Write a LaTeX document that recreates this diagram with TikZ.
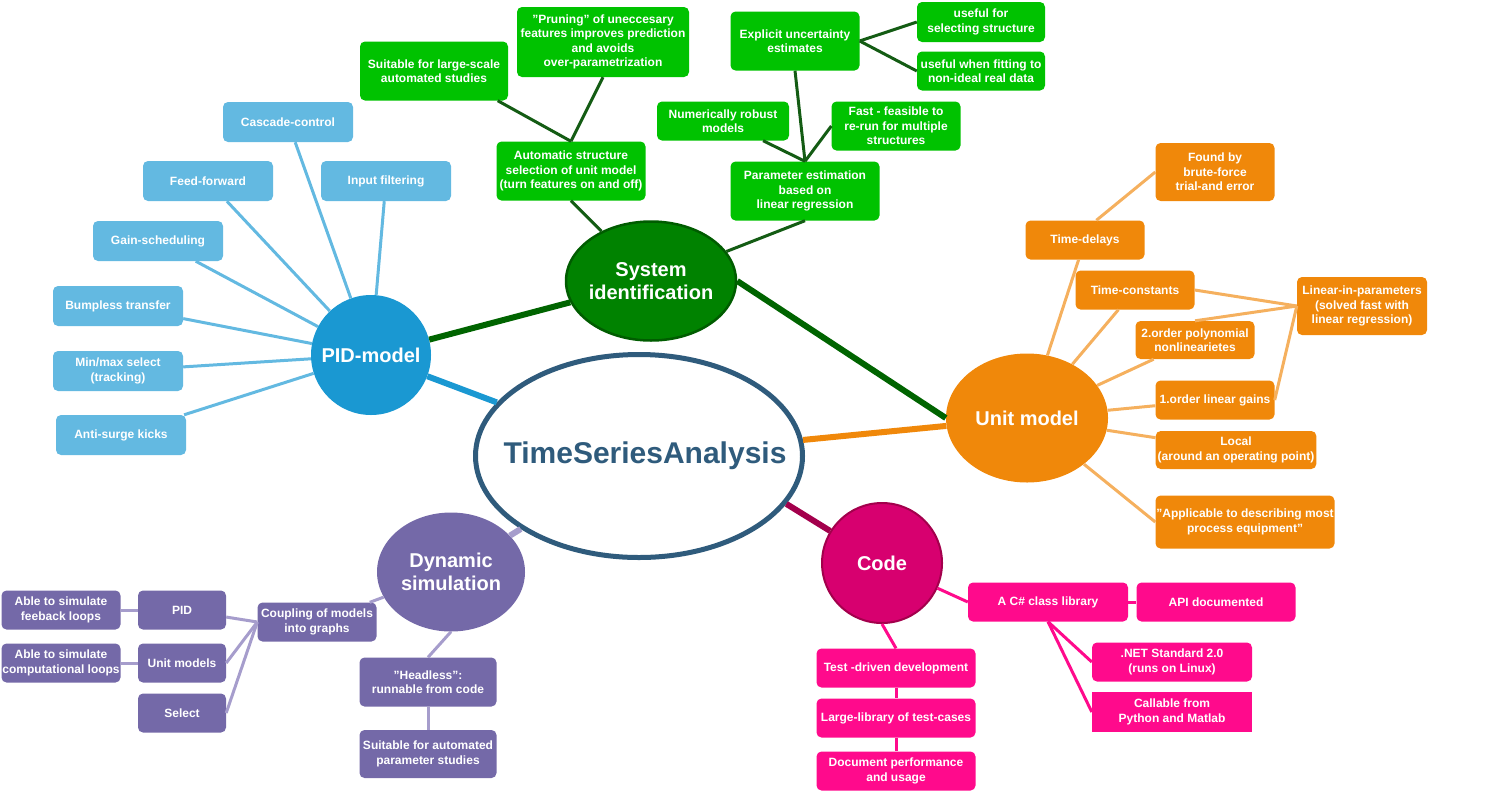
\documentclass[tikz,border=0pt]{standalone}
\usepackage{fontspec}
\setmainfont{Liberation Sans}
\usetikzlibrary{shapes.geometric}
\definecolor{tsaink}{HTML}{2F5B7C}
\definecolor{pidhub}{HTML}{1A98D2}
\definecolor{pidbox}{HTML}{63B9E1}
\definecolor{syshub}{HTML}{008200}
\definecolor{sysrim}{HTML}{005C00}
\definecolor{sysbox}{HTML}{00C200}
\definecolor{sysline}{HTML}{145C14}
\definecolor{syswire}{HTML}{006400}
\definecolor{unithub}{HTML}{F0880A}
\definecolor{unitline}{HTML}{F5B05E}
\definecolor{dynhub}{HTML}{7469A8}
\definecolor{dynline}{HTML}{A69DCC}
\definecolor{codehub}{HTML}{D7006F}
\definecolor{coderim}{HTML}{A3004C}
\definecolor{codebox}{HTML}{FF0A8C}

\begin{document}
\begin{tikzpicture}[x=1pt,y=-1pt,
  font=\bfseries\fontsize{12}{14.5}\selectfont,
  box/.style={rounded corners=5pt,text=white,align=center,inner sep=2pt,
    minimum width=119pt,minimum height=39pt},
  hub/.style={ellipse,text=white,align=center,inner xsep=-40pt,inner ysep=0pt,
    font=\bfseries\fontsize{20}{23}\selectfont},
  twig/.style={line width=3pt},
  limb/.style={line width=6pt}]
\useasboundingbox (0,0) rectangle (1498,793);

\node[hub,fill=white,draw=tsaink,line width=5pt,text=tsaink,
  font=\bfseries\fontsize{30}{36}\selectfont,
  minimum width=327pt,minimum height=203pt] (tsa) at (639,456) {\hspace*{12pt}TimeSeriesAnalysis};

\node[hub,fill=pidhub,minimum width=120pt,minimum height=120pt] (pid) at (371,355) {PID-model};
\node[box,fill=pidbox,minimum width=130pt,minimum height=40pt] (casc) at (288,122) {Cascade-control};
\node[box,fill=pidbox,minimum width=130pt,minimum height=40pt] (ffwd) at (208,181) {Feed-forward};
\node[box,fill=pidbox,minimum width=130pt,minimum height=40pt] (infil) at (386,181) {Input filtering};
\node[box,fill=pidbox,minimum width=130pt,minimum height=40pt] (gsch) at (158,241) {Gain-scheduling};
\node[box,fill=pidbox,minimum width=130pt,minimum height=40pt] (bump) at (118,306) {Bumpless transfer};
\node[box,fill=pidbox,minimum width=130pt,minimum height=40pt] (minmax) at (118,371) {Min/max select\\(tracking)};
\node[box,fill=pidbox,minimum width=130pt,minimum height=40pt] (asurge) at (121,435) {Anti-surge kicks};

\node[hub,fill=syshub,draw=sysrim,line width=2.5pt,minimum width=170pt,minimum height=119pt] (sysid) at (651,281) {System\\identification};
\node[box,fill=sysbox,minimum width=148pt,minimum height=59pt] (suit) at (434,71) {Suitable for large-scale\\automated studies};
\node[box,fill=sysbox,minimum width=172pt,minimum height=70pt] (prun) at (603,42) {"Pruning" of uneccesary\\features improves prediction\\and avoids\\over-parametrization};
\node[box,fill=sysbox,minimum width=149pt,minimum height=59pt] (auto) at (571,171) {Automatic structure\\selection of unit model\\(turn features on and off)};
\node[box,fill=sysbox,minimum width=129pt,minimum height=59pt] (expl) at (795,41) {Explicit uncertainty\\estimates};
\node[box,fill=sysbox,minimum width=128pt,minimum height=40pt] (use1) at (981,22) {useful for\\selecting structure};
\node[box,fill=sysbox,minimum width=128pt,minimum height=39pt] (use2) at (981,71) {useful when fitting to\\non-ideal real data};
\node[box,fill=sysbox,minimum width=132pt,minimum height=39pt] (robust) at (723,121) {Numerically robust\\models};
\node[box,fill=sysbox,minimum width=129pt,minimum height=49pt] (fast) at (896,126) {Fast - feasible to\\re-run for multiple\\structures};
\node[box,fill=sysbox,minimum width=149pt,minimum height=59pt] (param) at (805,191) {Parameter estimation\\based on\\linear regression};

\node[hub,fill=unithub,minimum width=162pt,minimum height=129pt] (unit) at (1027,418) {Unit model};
\node[box,fill=unithub,minimum height=58pt] (found) at (1215,172) {Found by\\brute-force\\trial-and error};
\node[box,fill=unithub] (td) at (1085,240) {Time-delays};
\node[box,fill=unithub] (tc) at (1135,290) {Time-constants};
\node[box,fill=unithub,minimum height=38pt] (poly) at (1195,340) {2.order polynomial\\nonlinearietes};
\node[box,fill=unithub] (og) at (1215,400) {1.order linear gains};
\node[box,fill=unithub,minimum width=160pt,minimum height=38pt] (local) at (1236,450) {Local\\(around an operating point)};
\node[box,fill=unithub,inner xsep=0pt,minimum width=179pt,minimum height=53pt] (applic) at (1245,522) {"Applicable to describing most\\process equipment"};
\node[box,fill=unithub,minimum width=130pt,minimum height=58pt] (lip) at (1362,306) {Linear-in-parameters\\(solved fast with\\linear regression)};

\node[hub,fill=dynhub,minimum width=148pt,minimum height=119pt] (dyn) at (451,572) {Dynamic\\simulation};
\node[box,fill=dynhub] (coup) at (317,622) {Coupling of models\\into graphs};
\node[box,fill=dynhub,minimum width=88pt] (pidb) at (182,610) {PID};
\node[box,fill=dynhub,minimum width=88pt] (unitm) at (182,663) {Unit models};
\node[box,fill=dynhub,minimum width=88pt] (sel) at (182,713) {Select};
\node[box,fill=dynhub] (able1) at (61,610) {Able to simulate\\feeback loops};
\node[box,fill=dynhub,inner xsep=0pt] (able2) at (61,663) {Able to simulate\\computational loops};
\node[box,fill=dynhub,minimum width=137pt,minimum height=49pt] (headl) at (428,682) {"Headless":\\runnable from code};
\node[box,fill=dynhub,minimum width=137pt,minimum height=48pt] (suit2) at (428,754) {Suitable for automated\\parameter studies};

\node[hub,fill=codehub,draw=coderim,line width=2pt,minimum width=120pt,minimum height=120pt] (code) at (882,563) {Code};
\node[box,fill=codebox,minimum width=160pt] (clib) at (1048,602) {A C\# class library};
\node[box,fill=codebox,minimum width=159pt] (api) at (1216,602) {API documented};
\node[box,fill=codebox,minimum width=160pt] (net) at (1172,662) {.NET Standard 2.0\\(runs on Linux)};
\node[box,fill=codebox,rounded corners=0pt,minimum width=160pt,minimum height=40pt] (call) at (1172,712) {Callable from\\Python and Matlab};
\node[box,fill=codebox,minimum width=159pt] (test) at (896,668) {Test -driven development};
\node[box,fill=codebox,minimum width=159pt] (large) at (896,718) {Large-library of test-cases};
\node[box,fill=codebox,minimum width=159pt] (doc) at (896,771) {Document performance\\and usage};

\draw[limb,syswire] (pid) -- (sysid);
\draw[limb,syswire] (sysid.east) -- (unit.west);
\draw[limb,pidhub] (pid) -- (tsa);
\draw[limb,unithub] (tsa) -- (unit);
\draw[limb,coderim] (tsa.-18) -- (code);
\draw[limb,dynline] (dyn) -- (tsa);

\foreach \n in {casc,ffwd,infil,gsch,bump,minmax,asurge}
  \draw[twig,pidbox] (\n) -- (pid);

\draw[twig,sysline] (suit.-25) -- (auto.north);
\draw[twig,sysline] (prun.south) -- (auto.north);
\draw[twig,sysline] (auto.south) -- (sysid);
\draw[twig,sysline] (param.south) -- (sysid);
\draw[twig,sysline] (expl.south) -- (param.north);
\draw[twig,sysline] (param.north) -- (robust);
\draw[twig,sysline] (param.north) -- (fast.west);
\draw[twig,sysline] (expl.east) -- (use1.west);
\draw[twig,sysline] (expl.east) -- (use2.west);

\foreach \n in {td,tc,poly,og,local}
  \draw[twig,unitline] (unit) -- (\n);
\draw[twig,unitline] (unit) -- (applic.west);
\draw[twig,unitline] (td.60) -- (found.west);
\draw[twig,unitline] (tc.east) -- (lip.west);
\draw[twig,unitline] (poly.north) -- (lip.west);
\draw[twig,unitline] (og.east) -- (lip.west);

\draw[twig,dynline] (dyn) -- (coup);
\draw[twig,dynline] (dyn.south) -- (headl.north);
\draw[twig,dynline] (headl) -- (suit2);
\draw[twig,dynline] (coup.west) -- (pidb);
\draw[twig,dynline] (coup.west) -- (unitm.east);
\draw[twig,dynline] (coup.west) -- (sel.east);
\draw[twig,dynline] (able1) -- (pidb);
\draw[twig,dynline] (able2) -- (unitm);

\draw[twig,codebox] (code) -- (clib.west);
\draw[twig,codebox] (clib) -- (api);
\draw[twig,codebox] (clib.south) -- (net.west);
\draw[twig,codebox] (clib.south) -- (call.west);
\draw[twig,codebox] (code.south) -- (test.north);
\draw[twig,codebox] (test) -- (large);
\draw[twig,codebox] (large) -- (doc);
\end{tikzpicture}
\end{document}
